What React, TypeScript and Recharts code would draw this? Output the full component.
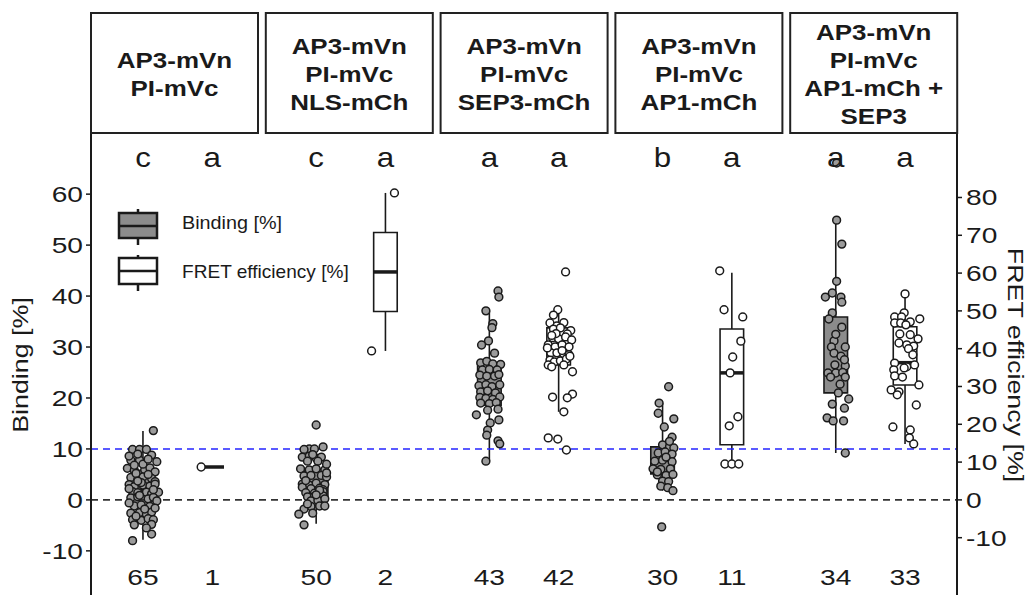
import React from 'react';
import { ComposedChart, XAxis, YAxis, Scatter, ReferenceArea, ReferenceLine } from 'recharts';

const FONT = '"Liberation Sans", Arial, Helvetica, sans-serif';

// ---------- data ----------
const panelLabels: string[][] = [
  ['AP3-mVn', 'PI-mVc'],
  ['AP3-mVn', 'PI-mVc', 'NLS-mCh'],
  ['AP3-mVn', 'PI-mVc', 'SEP3-mCh'],
  ['AP3-mVn', 'PI-mVc', 'AP1-mCh'],
  ['AP3-mVn', 'PI-mVc', 'AP1-mCh +', 'SEP3'],
];
const groupPos = [0.3, 0.7, 1.3, 1.7, 2.3, 2.7, 3.3, 3.7, 4.3, 4.7];
const groupKind = ['binding', 'fret', 'binding', 'fret', 'binding', 'fret', 'binding', 'fret', 'binding', 'fret'];
const sigLetters = ['c', 'a', 'c', 'a', 'a', 'a', 'b', 'a', 'a', 'a'];
const counts = ['65', '1', '50', '2', '43', '42', '30', '11', '34', '33'];
// [whiskerLow, q1, median, q3, whiskerHigh]
const boxStats: number[][] = [
  [-7.8, -1.5, 1.8, 5.8, 13.5],
  [8.7, 8.7, 8.7, 8.7, 8.7],
  [-4.7, 0.6, 3.0, 6.0, 10.4],
  [39.4, 49.85, 60.3, 70.75, 81.2],
  [7.6, 18.6, 22.5, 26.7, 37.1],
  [23.3, 35.7, 40.5, 45.5, 50.3],
  [1.8, 5.1, 7.8, 10.4, 19.0],
  [9.5, 14.6, 33.6, 45.2, 60.1],
  [9.2, 21.0, 24.9, 35.9, 54.9],
  [14.8, 30.4, 36.3, 45.8, 54.5],
];
const leftTicks = [-10, 0, 10, 20, 30, 40, 50, 60];
const rightTicks = [-10, 0, 10, 20, 30, 40, 50, 60, 70, 80];
const bindingThreshold = 10;

const g1Values = [13.6, 9.9, 9.9, 9.9, 8.8, 7.8, 7.8, 7.5, 6.2, 5.8, 5.9, 6.3, 5.5, 4.4, 4.0, 4.5, 4.2, 3.6, 3.0, 2.6, 2.9, 2.7, 3.1, 1.6, 1.4, 1.5, 1.2, 1.5, 0.4, 0.6, 0.2, 0.5, -1.2, -1.0, -1.3, -2.6, -2.5, -2.8, -2.4, -3.9, -4.0, -3.7, -3.9, -4.9, -4.8, -6.7, -8.0, 8.6, 7.0, 5.2, 5.0, 3.4, 2.0, 2.2, 0.9, -0.2, -0.6, -1.8, -3.2, -1.6, 9.0, 8.0, 6.8, -5.5, 3.7];
const g1Jitter = [0.06, -0.06, -0.02, 0.02, 0.05, -0.07, -0.02, 0.08, -0.09, -0.05, 0.01, 0.04, 0.07, -0.07, -0.03, 0.0, 0.05, 0.07, -0.08, -0.05, 0.0, 0.04, 0.07, -0.06, -0.03, 0.02, 0.05, 0.09, -0.07, -0.03, 0.03, 0.06, -0.05, -0.01, 0.04, -0.07, -0.02, 0.02, 0.05, -0.06, -0.01, 0.03, 0.06, -0.05, 0.05, 0.05, -0.06, -0.08, 0.0, -0.04, 0.03, -0.01, 0.06, -0.08, -0.02, 0.08, -0.08, 0.01, -0.04, 0.07, -0.03, 0.03, -0.05, 0.02, -0.03];

const g2Values = [8.7];
const g2Jitter = [-0.064];

const g3Values = [14.7, 10.4, 10.0, 10.0, 9.9, 8.4, 8.6, 8.2, 8.4, 7.6, 7.6, 6.1, 5.9, 6.1, 5.9, 4.7, 4.8, 4.8, 4.5, 3.1, 2.9, 3.3, 3.0, 2.5, 2.2, 2.3, 2.0, 1.4, 1.3, 1.6, 0.6, 0.7, 0.8, -0.2, -0.1, 0.2, -1.2, -1.2, -1.3, -1.8, -2.6, -2.8, -4.9, 8.9, 5.3, 3.8, 1.9, 1.0, 7.0, -0.8];
const g3Jitter = [0.0, 0.04, -0.04, -0.01, -0.07, -0.08, -0.04, 0.0, 0.03, -0.05, 0.01, -0.09, -0.04, 0.0, 0.05, -0.07, -0.03, 0.03, 0.06, -0.08, -0.04, 0.0, 0.05, -0.08, -0.03, 0.02, 0.04, -0.06, -0.01, 0.04, -0.05, -0.01, 0.04, -0.03, 0.01, 0.05, 0.02, 0.05, -0.03, -0.07, -0.02, -0.1, -0.07, -0.02, 0.06, -0.06, 0.02, 0.0, 0.06, -0.05];

const g4Values = [81.2, 39.4];
const g4Jitter = [0.052, -0.08];

const g5Values = [41.0, 39.8, 37.1, 34.6, 33.8, 31.2, 30.4, 28.8, 26.9, 27.2, 26.7, 26.6, 25.5, 25.6, 25.5, 24.5, 24.3, 24.3, 24.6, 22.4, 22.6, 22.2, 21.2, 21.4, 21.0, 20.1, 19.9, 19.7, 20.2, 19.0, 18.9, 19.1, 16.7, 17.6, 15.1, 15.7, 13.7, 12.7, 11.6, 11.0, 7.6, 22.6, 17.8];
const g5Jitter = [0.05, 0.055, -0.02, 0.02, 0.015, -0.005, -0.045, 0.03, -0.05, -0.015, 0.02, 0.065, -0.04, 0.0, 0.045, -0.055, -0.015, 0.03, 0.055, -0.06, -0.02, 0.015, -0.05, -0.01, 0.035, -0.055, -0.02, 0.02, 0.06, -0.05, 0.0, 0.04, -0.075, -0.01, 0.005, 0.055, -0.01, -0.015, 0.05, 0.06, -0.02, 0.06, 0.05];

const g6Values = [60.3, 50.3, 48.9, 46.8, 46.0, 46.9, 44.8, 45.2, 45.5, 43.9, 42.9, 42.6, 43.1, 42.3, 41.0, 40.5, 41.0, 40.5, 38.9, 38.9, 38.6, 38.4, 37.0, 36.5, 36.8, 37.3, 35.7, 35.2, 35.7, 33.9, 40.2, 38.0, 27.2, 28.0, 27.0, 23.3, 16.4, 16.1, 13.2, 44.0, 39.5, 43.5];
const g6Jitter = [0.04, -0.005, -0.03, -0.05, -0.01, 0.03, 0.07, -0.03, 0.01, 0.05, -0.035, 0.0, 0.04, 0.075, -0.06, -0.02, 0.02, 0.06, -0.045, -0.01, 0.03, 0.06, -0.05, -0.025, 0.01, 0.045, -0.06, -0.04, 0.03, 0.08, -0.065, 0.065, -0.035, 0.08, 0.05, 0.03, -0.06, -0.005, 0.045, -0.015, 0.02, -0.04];

const g7Values = [22.2, 19.0, 17.0, 15.9, 14.3, 12.3, 10.8, 10.4, 10.2, 9.2, 9.4, 9.0, 7.6, 7.8, 7.5, 6.1, 6.0, 6.1, 4.9, 4.8, 5.0, 3.7, 3.6, 2.7, 2.4, 1.8, -5.3, 8.4, 5.5, 11.5];
const g7Jitter = [0.035, -0.02, -0.025, 0.065, 0.01, 0.055, 0.0, 0.04, 0.065, -0.025, 0.015, 0.055, -0.045, 0.0, 0.055, -0.055, -0.01, 0.045, -0.03, 0.02, 0.06, 0.0, 0.035, -0.01, 0.03, 0.06, -0.005, 0.02, -0.03, 0.04];

const g8Values = [60.6, 50.3, 48.4, 42.0, 37.8, 33.6, 22.0, 19.6, 9.5, 9.5, 9.5];
const g8Jitter = [-0.07, -0.045, 0.063, 0.052, 0.005, -0.01, 0.035, -0.015, -0.04, 0.0, 0.04];

const g9Values = [66.1, 54.9, 50.2, 42.9, 39.8, 40.6, 39.8, 38.8, 36.7, 33.9, 31.2, 30.0, 30.0, 28.8, 28.2, 26.5, 26.3, 24.9, 24.9, 25.0, 24.1, 24.1, 22.7, 21.0, 19.8, 18.8, 18.0, 16.1, 15.5, 15.5, 9.2, 35.5, 27.5, 32.5];
const g9Jitter = [0.005, 0.005, 0.035, 0.005, -0.06, -0.02, 0.03, 0.035, -0.02, 0.035, -0.01, -0.025, 0.055, -0.01, 0.03, -0.005, 0.055, -0.045, 0.0, 0.04, -0.03, 0.055, 0.025, 0.015, 0.075, -0.02, 0.05, -0.05, -0.015, 0.045, 0.055, -0.04, 0.05, 0.0];

const g10Values = [54.5, 49.5, 48.4, 48.4, 47.1, 47.9, 46.8, 46.8, 46.3, 43.9, 43.7, 42.6, 41.5, 41.0, 40.7, 40.0, 38.4, 36.2, 35.2, 35.7, 34.4, 34.9, 32.8, 32.5, 30.4, 29.1, 28.6, 27.8, 25.1, 19.3, 18.5, 16.4, 14.8];
const g10Jitter = [0.0, -0.005, -0.06, -0.02, 0.03, 0.085, -0.06, -0.025, 0.005, -0.03, 0.03, 0.075, -0.035, 0.01, 0.05, 0.02, 0.045, -0.06, 0.01, 0.055, -0.065, -0.005, -0.06, -0.015, 0.08, -0.08, -0.035, -0.045, 0.065, -0.07, 0.03, 0.025, 0.05];

const groupValues = [g1Values, g2Values, g3Values, g4Values, g5Values, g6Values, g7Values, g8Values, g9Values, g10Values];
const groupJitter = [g1Jitter, g2Jitter, g3Jitter, g4Jitter, g5Jitter, g6Jitter, g7Jitter, g8Jitter, g9Jitter, g10Jitter];

// ---------- styles ----------
const INK = '#1a1a1a';
const BOX_GRAY = '#8c8c8c';
const PT_GRAY = '#9b9b9b';
const BOX_HALF = 0.068;
const LETTER_Y = 65.3;
const COUNT_Y = -16.7;

const LeftTick = (p: any) => (
  <text transform={`translate(${p.x},${p.y}) scale(1.28,1)`} textAnchor="end" dy="0.36em"
    fontSize={22} fontFamily={FONT} fill={INK}>{p.payload.value}</text>
);
const RightTick = (p: any) => (
  <text transform={`translate(${p.x},${p.y}) scale(1.28,1)`} textAnchor="start" dy="0.36em"
    fontSize={22} fontFamily={FONT} fill={INK}>{p.payload.value}</text>
);

const letterData = groupPos.map((x, i) => ({ x, y: LETTER_Y, label: sigLetters[i] }));
const countData = groupPos.map((x, i) => ({ x, y: COUNT_Y, label: counts[i] }));

const LetterShape = (p: any) => (
  <text transform={`translate(${p.cx},${p.cy}) scale(1.12,1)`} textAnchor="middle"
    fontSize={28} fontFamily={FONT} fill={INK}>{p.payload.label}</text>
);
const CountShape = (p: any) => (
  <text transform={`translate(${p.cx},${p.cy}) scale(1.28,1)`} textAnchor="middle"
    fontSize={22} fontFamily={FONT} fill={INK}>{p.payload.label}</text>
);

export default function App() {
  const panelLeft = (i: number) => 91 + i * 174.8;
  return (
    <div style={{ position: 'absolute', left: 0, top: 0, width: 1030, height: 595, overflow: 'hidden', background: '#fff' }}>
      <div style={{ position: 'absolute', left: 0, top: 0 }}>
        <ComposedChart width={1030} height={612} margin={{ top: 133, right: 0, bottom: 0, left: 0 }}>
          <XAxis xAxisId="x" type="number" dataKey="x" domain={[0, 5]} hide allowDataOverflow />
          <YAxis yAxisId="left" type="number" dataKey="y" domain={[-22, 72]} ticks={leftTicks} interval={0}
            allowDataOverflow width={91} tickSize={5} tickMargin={3}
            axisLine={{ stroke: INK, strokeWidth: 2 }} tickLine={{ stroke: INK, strokeWidth: 1.5 }} tick={LeftTick} />
          <YAxis yAxisId="right" orientation="right" type="number" dataKey="y" domain={[-29.66, 97.06]} ticks={rightTicks}
            interval={0} allowDataOverflow width={73} tickSize={5} tickMargin={4}
            axisLine={{ stroke: INK, strokeWidth: 2 }} tickLine={{ stroke: INK, strokeWidth: 1.5 }} tick={RightTick} />

          {groupPos.map((c, i) => {
            const [lo, q1, med, q3, hi] = boxStats[i];
            const yId = groupKind[i] === 'binding' ? 'left' : 'right';
            const fill = groupKind[i] === 'binding' ? BOX_GRAY : '#ffffff';
            return (
              <React.Fragment key={'box' + i}>
                <ReferenceLine xAxisId="x" yAxisId={yId} segment={[{ x: c, y: q3 }, { x: c, y: hi }]} stroke={INK} strokeWidth={1.6} />
                <ReferenceLine xAxisId="x" yAxisId={yId} segment={[{ x: c, y: lo }, { x: c, y: q1 }]} stroke={INK} strokeWidth={1.6} />
                <ReferenceArea xAxisId="x" yAxisId={yId} x1={c - BOX_HALF} x2={c + BOX_HALF} y1={q1} y2={q3}
                  fill={fill} fillOpacity={1} stroke={INK} strokeWidth={1.6} />
                <ReferenceLine xAxisId="x" yAxisId={yId} segment={[{ x: c - BOX_HALF, y: med }, { x: c + BOX_HALF, y: med }]}
                  stroke={INK} strokeWidth={3.5} />
              </React.Fragment>
            );
          })}

          <ReferenceLine xAxisId="x" yAxisId="left" y={0} stroke="#333333" strokeWidth={1.6} strokeDasharray="7 5" />
          <ReferenceLine xAxisId="x" yAxisId="left" y={bindingThreshold} stroke="#2424ff" strokeWidth={1.6} strokeDasharray="7 5" />

          {groupPos.map((c, i) => {
            const yId = groupKind[i] === 'binding' ? 'left' : 'right';
            const fill = groupKind[i] === 'binding' ? PT_GRAY : '#ffffff';
            const data = groupValues[i].map((v, j) => ({ x: c + groupJitter[i][j], y: v }));
            return (
              <Scatter key={'pts' + i} xAxisId="x" yAxisId={yId} data={data} isAnimationActive={false}
                shape={(p: any) => <circle cx={p.cx} cy={p.cy} r={3.9} fill={fill} stroke={INK} strokeWidth={1.5} />} />
            );
          })}

          <Scatter xAxisId="x" yAxisId="left" data={letterData} isAnimationActive={false} shape={LetterShape} />
          <Scatter xAxisId="x" yAxisId="left" data={countData} isAnimationActive={false} shape={CountShape} />
        </ComposedChart>
      </div>

      <svg width={1030} height={595} style={{ position: 'absolute', left: 0, top: 0, pointerEvents: 'none' }}>
        {panelLabels.map((lines, i) => {
          const x0 = panelLeft(i);
          const n = lines.length;
          return (
            <g key={'panel' + i}>
              <rect x={x0} y={13} width={167} height={120} fill="#fff" stroke="#222" strokeWidth={2} />
              {lines.map((t, k) => (
                <text key={k} transform={`translate(${x0 + 83.5},${82 + (k - (n - 1) / 2) * 27.8}) scale(1.18,1)`}
                  textAnchor="middle" fontSize={22} fontWeight="bold" fontFamily={FONT} fill={INK}>{t}</text>
              ))}
            </g>
          );
        })}

        <text transform="translate(28,365) rotate(-90) scale(1.22,1)" textAnchor="middle" fontSize={22}
          fontFamily={FONT} fill={INK}>Binding [%]</text>
        <text transform="translate(1008,365) rotate(90) scale(1.22,1)" textAnchor="middle" fontSize={22}
          fontFamily={FONT} fill={INK}>FRET efficiency [%]</text>

        {/* legend */}
        <line x1={138} y1={209} x2={138} y2={245} stroke={INK} strokeWidth={2.5} />
        <rect x={119} y={213} width={38} height={25} fill={BOX_GRAY} stroke={INK} strokeWidth={2.5} />
        <line x1={119} y1={226} x2={157} y2={226} stroke={INK} strokeWidth={2.5} />
        <text transform="translate(182,229) scale(1.1,1)" fontSize={18} fontFamily={FONT} fill={INK}>Binding [%]</text>

        <line x1={138} y1={255} x2={138} y2={291} stroke={INK} strokeWidth={2.5} />
        <rect x={119} y={258} width={38} height={26} fill="#fff" stroke={INK} strokeWidth={2.5} />
        <line x1={119} y1={271} x2={157} y2={271} stroke={INK} strokeWidth={2.5} />
        <text transform="translate(182,278) scale(1.06,1)" fontSize={18} fontFamily={FONT} fill={INK}>FRET efficiency [%]</text>
      </svg>
    </div>
  );
}
